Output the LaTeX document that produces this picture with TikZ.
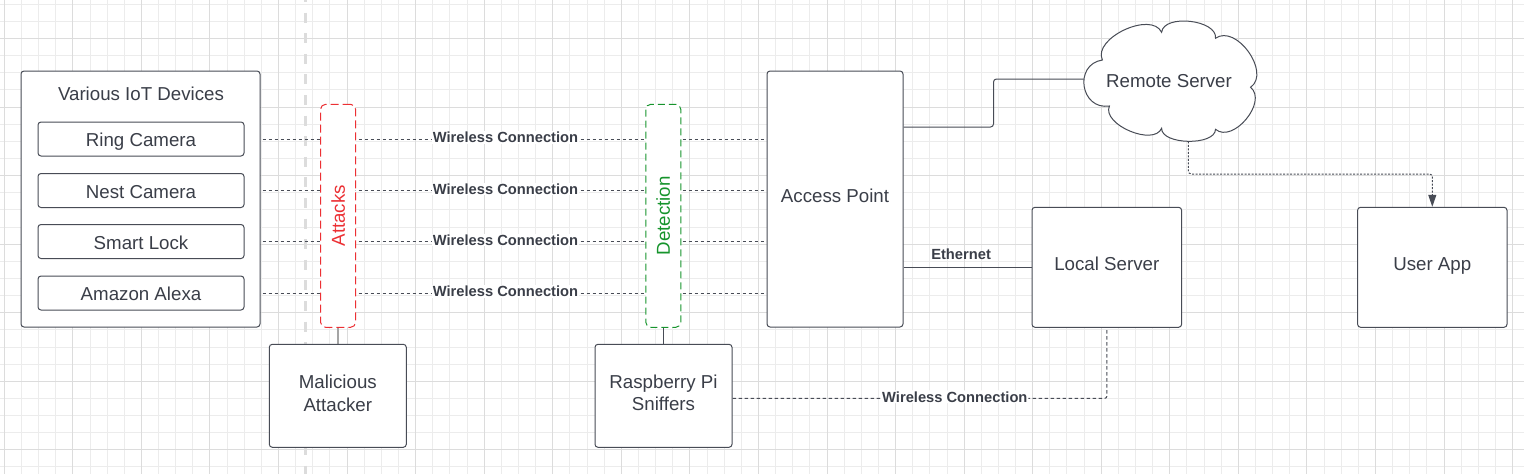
\documentclass[tikz,border=0pt]{standalone}
\usepackage{fontspec}
\setmainfont{Liberation Sans}
\usetikzlibrary{arrows.meta,calc}
\definecolor{ink}{RGB}{58,62,72}
\definecolor{edge}{RGB}{72,76,86}
\definecolor{gridminor}{RGB}{236,236,236}
\definecolor{gridmajor}{RGB}{220,220,220}
\definecolor{atkred}{RGB}{236,48,52}
\definecolor{detgreen}{RGB}{22,148,44}
\definecolor{sepgrey}{RGB}{220,220,220}
\definecolor{lightlink}{RGB}{165,165,165}
\pgfdeclarelayer{gridlayer}
\pgfdeclarelayer{linklayer}
\pgfsetlayers{gridlayer,linklayer,main}
\begin{document}
\begin{tikzpicture}[x=1pt,y=-1pt,
  box/.style={draw=edge, line width=1pt, fill=white, rounded corners=3pt, inner sep=0pt},
  txt/.style={inner sep=0pt, anchor=base, text=ink, font=\fontsize{18.7}{22.3}\selectfont, align=center},
  tagbox/.style={line width=1pt, fill=white, rounded corners=5pt, inner sep=0pt,
    minimum width=35pt, minimum height=223pt},
  tagtxt/.style={rotate=90, inner sep=0pt, font=\fontsize{18.7}{22.3}\selectfont},
  wire/.style={draw=edge, line width=1pt, dash pattern=on 3.5pt off 2.5pt},
  dotwire/.style={draw=edge, line width=1pt, dash pattern=on 2pt off 1.5pt},
  solidlink/.style={draw=edge, line width=1pt},
  lbl/.style={fill=white, inner sep=1pt, yshift=1.5pt, text=ink, font=\fontsize{14.7}{17}\selectfont\bfseries},
]
\useasboundingbox (0,0) rectangle (1524,474);

\begin{pgfonlayer}{gridlayer}
\fill[white] (0,0) rectangle (1524,474);
\foreach \k in {0,...,88} {\draw[gridminor, line width=1pt] ({4.3+17.14*\k},0) -- ({4.3+17.14*\k},474);}
\foreach \k in {0,...,27} {\draw[gridminor, line width=1pt] (0,{4.2+17.14*\k}) -- (1524,{4.2+17.14*\k});}
\foreach \k in {0,4,...,88} {\draw[gridmajor, line width=1pt] ({4.3+17.14*\k},0) -- ({4.3+17.14*\k},474);}
\foreach \k in {2,6,...,26} {\draw[gridmajor, line width=1pt] (0,{4.2+17.14*\k}) -- (1524,{4.2+17.14*\k});}
\draw[sepgrey, line width=3pt, dash pattern=on 10pt off 10.6pt] (305,-8) -- (305,482);
\end{pgfonlayer}

% IoT group
\node[box, minimum width=239pt, minimum height=256pt] (iot) at (140.5,199) {};
\node[txt] (title) at (141,100.7) {Various IoT Devices};
\node[box, minimum width=206pt, minimum height=34pt] (ring) at (141,139) {};
\node[txt] (ringtxt) at (141,146.7) {Ring Camera};
\node[box, minimum width=206pt, minimum height=34pt] (nest) at (141,190.5) {};
\node[txt] (nesttxt) at (141,198) {Nest Camera};
\node[box, minimum width=206pt, minimum height=34pt] (lock) at (141,241.5) {};
\node[txt] (locktxt) at (141,249.5) {Smart Lock};
\node[box, minimum width=206pt, minimum height=34pt] (alexa) at (141,293) {};
\node[txt] (alexatxt) at (141,300.8) {Amazon Alexa};

% attack / detection bands
\node[tagbox, draw=atkred, dash pattern=on 8pt off 4pt] (attacks) at (338.1,215.8) {};
\node[tagtxt, text=atkred] (attackstxt) at (338.1,215.8) {Attacks};
\node[tagbox, draw=detgreen, dash pattern=on 7pt off 4pt] (detection) at (663.3,215.8) {};
\node[tagtxt, text=detgreen] (detectiontxt) at (663.3,215.8) {Detection};

\node[box, minimum width=137pt, minimum height=103pt] (malicious) at (337.8,395.8) {};
\node[txt] (malicioustxt) at (337.8,411) {Malicious\\Attacker};
\node[box, minimum width=137pt, minimum height=103pt] (rasp) at (663.5,395.8) {};
\node[txt] (rasptxt) at (663.5,410.8) {Raspberry Pi\\Sniffers};

\node[box, minimum width=136pt, minimum height=256pt] (ap) at (835,199) {};
\node[txt] (aptxt) at (835,202.7) {Access Point};
\node[box, minimum width=149.6pt, minimum height=120pt] (local) at (1106.8,267.3) {};
\node[txt] (localtxt) at (1106.8,270.7) {Local Server};
\node[box, minimum width=149.4pt, minimum height=120pt] (userapp) at (1432.3,267.3) {};
\node[txt] (userapptxt) at (1432.3,270.7) {User App};

% cloud
\draw[draw=edge, line width=1pt, fill=white]
  (1102.4,60) .. controls (1092.2,38.3) and (1151.4,10.6) .. (1161.6,32.3)
  .. controls (1163.7,13.7) and (1217.6,19.7) .. (1215.5,38.3)
  .. controls (1236.1,23.6) and (1271.2,72.6) .. (1250.6,87.3)
  .. controls (1268,101.9) and (1232.9,143.9) .. (1215.5,129.3)
  .. controls (1215.2,146) and (1161.3,145) .. (1161.6,128.3)
  .. controls (1153.7,146.7) and (1101.5,124.4) .. (1109.4,106)
  .. controls (1080.4,110.4) and (1073.4,64.4) .. (1102.4,60) -- cycle;
\node[txt] (remote) at (1169,87.3) {Remote Server};
\coordinate (cloudw) at (1084,79);
\coordinate (cloudb) at (1188.3,141.3);

\begin{pgfonlayer}{linklayer}
\draw[wire] (ring.east) -- (ap.west |- ring.east) node[midway, lbl] {Wireless Connection};
\draw[wire] (nest.east) -- (ap.west |- nest.east) node[midway, lbl] {Wireless Connection};
\draw[wire] (lock.east) -- (ap.west |- lock.east) node[midway, lbl] {Wireless Connection};
\draw[wire] (alexa.east) -- (ap.west |- alexa.east) node[midway, lbl] {Wireless Connection};
\draw[lightlink, line width=1.5pt] (attacks.south) -- (malicious.north -| attacks.south);
\draw[solidlink] (detection.south) -- (rasp.north -| detection.south);
\draw[solidlink, rounded corners=3pt] ([yshift=72pt]ap.east) -- ++(90,0) |- (cloudw);
\draw[solidlink] (ap.east |- local.west) -- (local.west)
  node[pos=0.45, anchor=south, inner sep=0pt, yshift=7pt, text=ink, font=\fontsize{14.7}{17}\selectfont\bfseries] {Ethernet};
\draw[dotwire, rounded corners=3pt, -{Triangle[width=8pt,length=12pt]}] (cloudb) -- (1188.3,174) -| (userapp.north);
\draw[wire, rounded corners=2pt] ([yshift=-2.5pt]rasp.east) -| (local.south)
  node[pos=0.297, lbl] {Wireless Connection};
\end{pgfonlayer}
\end{tikzpicture}
\end{document}
